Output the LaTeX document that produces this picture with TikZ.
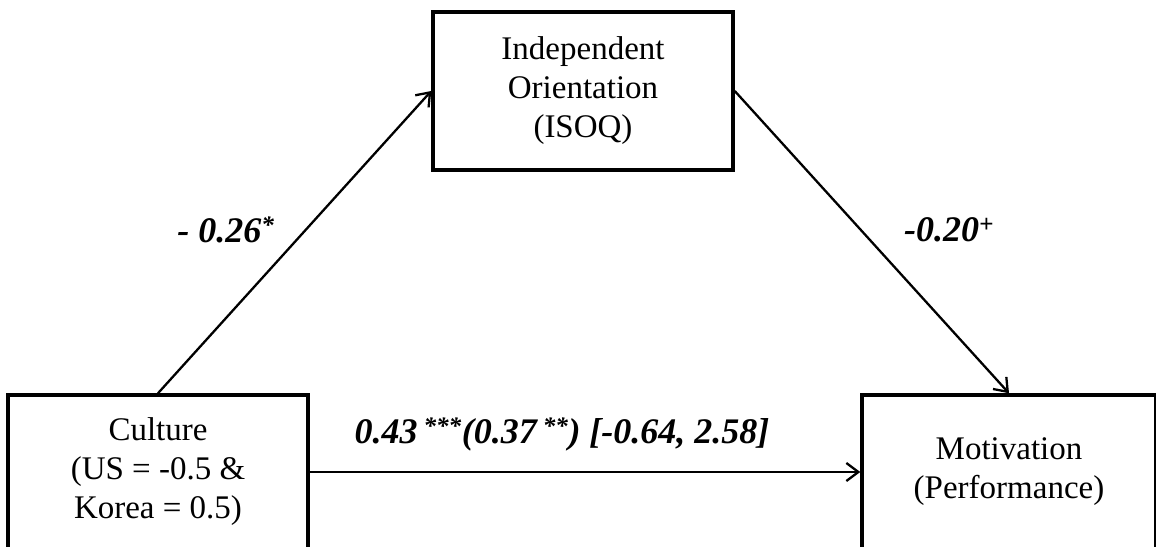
\documentclass[tikz,border=0pt]{standalone}
\usepackage{fontspec}
\setmainfont{Liberation Serif}
\usetikzlibrary{arrows.meta,positioning}

\begin{document}
\begin{tikzpicture}[x=1pt,y=-1pt,>={Straight Barb[length=12pt,width=18pt]},
  var/.style={draw,line width=3.5pt,align=center,inner sep=0pt,
    font=\fontsize{33}{39}\selectfont},
  path/.style={->,line width=2.3pt},
  coef/.style={font=\fontsize{36}{40}\selectfont\bfseries\itshape}]
\useasboundingbox (0,0) rectangle (1156,546);
\node[var,minimum width=300pt,minimum height=158pt] (isoq) at (583,91) {Independent\\Orientation\\(ISOQ)};
\node[var,minimum width=300pt,minimum height=154pt] (culture) at (158,472) {Culture\\(US = -0.5 \&\\Korea = 0.5)};
\node[var,minimum width=294pt,minimum height=154pt] (motiv) at (1009,472) {Motivation\\(Performance)};
\draw[path] (culture.north) -- (isoq.west);
\draw[path] (isoq.east) -- (motiv.north);
\draw[path] (culture.east) -- (motiv.west);
\node[coef] (a) at (226,230) {- 0.26\textsuperscript{*}};
\node[coef] (b) at (949,230) {-0.20\textsuperscript{+}};
\node[coef] (c) at (562,434) {0.43\,\textsuperscript{***}(0.37\,\textsuperscript{**}) [-0.64, 2.58]};
\end{tikzpicture}
\end{document}
